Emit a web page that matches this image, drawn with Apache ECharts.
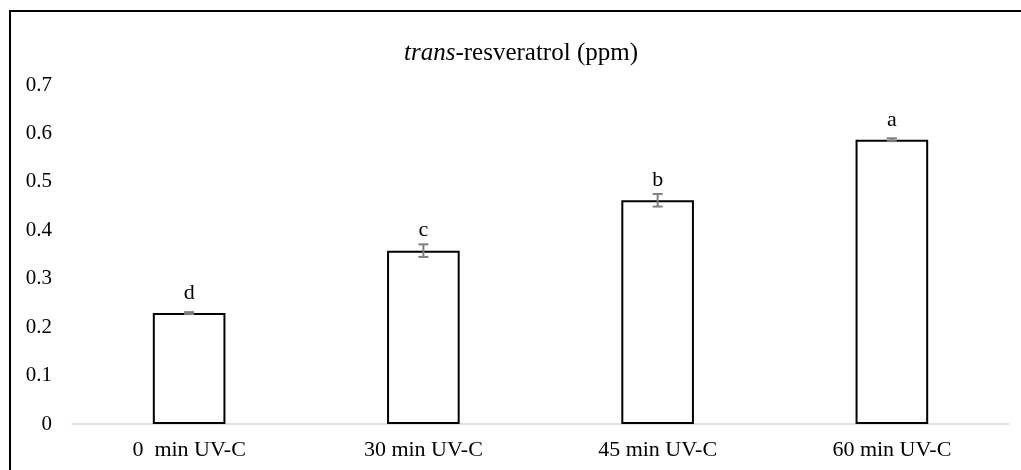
<html>
<head>
<meta charset="utf-8">
<script src="https://cdn.jsdelivr.net/npm/echarts@6/dist/echarts.min.js"></script>
</head>
<body style="margin:0">
<div id="chartmain" style="width:1021px;height:470px"></div>
<script type="text/javascript">
    // data
    var categories = ['0  min UV-C', '30 min UV-C', '45 min UV-C', '60 min UV-C'];
    var means = [0.229, 0.358, 0.462, 0.587];
    var errors = [0.002, 0.013, 0.013, 0.003];
    var letters = ['d', 'c', 'b', 'a'];
    var yTicks = { min: 0, max: 0.7, interval: 0.1 };

    var font = "'Liberation Serif', 'Times New Roman', serif";

    var errData = [];
    for (var i = 0; i < means.length; i++) {
        errData.push([i, means[i] - errors[i], means[i] + errors[i]]);
    }

    var option = {
        animation: false,
        textStyle: { fontFamily: font },
        title: {
            text: '{i|trans}-resveratrol (ppm)',
            left: 516,
            textAlign: 'center',
            top: 36,
            textStyle: {
                fontFamily: font,
                fontWeight: 'normal',
                fontSize: 25,
                color: '#000',
                rich: {
                    i: { fontFamily: font, fontStyle: 'italic', fontSize: 25, color: '#000' }
                }
            }
        },
        graphic: [{
            // outer frame (cut at the right and bottom edges)
            type: 'rect',
            shape: { x: 10, y: 11, width: 1100, height: 600 },
            style: { fill: 'none', stroke: '#000', lineWidth: 2 },
            silent: true
        }],
        grid: { left: 72, right: 12, top: 85, bottom: 46 },
        xAxis: {
            type: 'category',
            data: categories,
            axisLine: { lineStyle: { color: '#d9d9d9', width: 1.5 } },
            axisTick: { show: false },
            axisLabel: { fontFamily: font, fontSize: 22, color: '#000', margin: 15 }
        },
        yAxis: {
            type: 'value',
            min: yTicks.min,
            max: yTicks.max,
            interval: yTicks.interval,
            axisLine: { show: false },
            axisTick: { show: false },
            splitLine: { show: false },
            axisLabel: { fontFamily: font, fontSize: 21, color: '#000', margin: 20 }
        },
        series: [{
            type: 'bar',
            data: means,
            barWidth: '31%',
            itemStyle: { color: '#fff', borderColor: '#000', borderWidth: 2 },
            label: {
                show: true,
                position: 'top',
                distance: 9,
                fontFamily: font,
                fontSize: 22,
                color: '#000',
                formatter: function (p) { return letters[p.dataIndex]; }
            }
        }, {
            type: 'custom',
            data: errData,
            z: 5,
            renderItem: function (params, api) {
                var x = api.value(0);
                var lo = api.coord([x, api.value(1)]);
                var hi = api.coord([x, api.value(2)]);
                var cap = 5;
                var st = { stroke: '#7f7f7f', lineWidth: 2 };
                return {
                    type: 'group',
                    children: [
                        { type: 'line', shape: { x1: lo[0], y1: lo[1], x2: hi[0], y2: hi[1] }, style: st },
                        { type: 'line', shape: { x1: lo[0] - cap, y1: lo[1], x2: lo[0] + cap, y2: lo[1] }, style: st },
                        { type: 'line', shape: { x1: hi[0] - cap, y1: hi[1], x2: hi[0] + cap, y2: hi[1] }, style: st }
                    ]
                };
            }
        }]
    };

    var myChart = echarts.init(document.getElementById('chartmain'));
    myChart.setOption(option);
</script>
</body>
</html>
